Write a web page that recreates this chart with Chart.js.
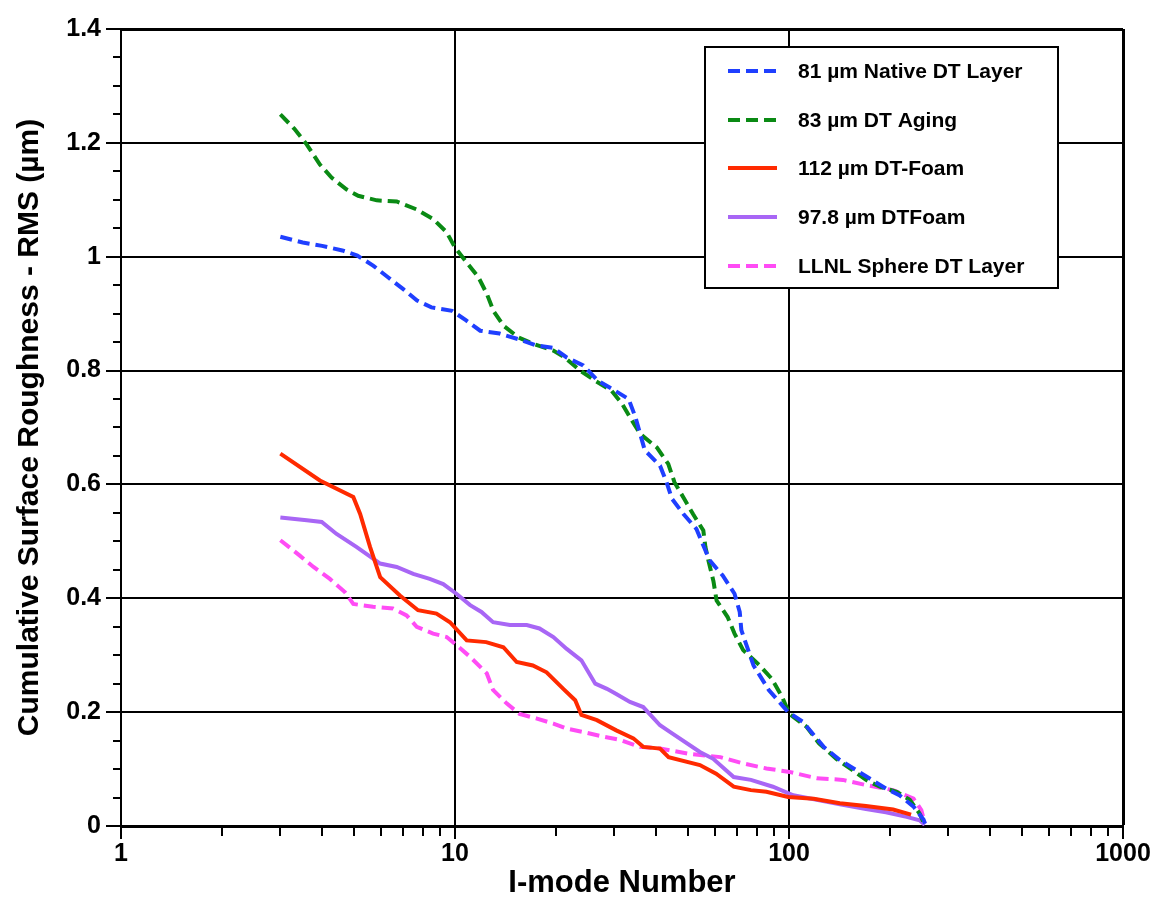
<!DOCTYPE html>
<html>
<head>
<meta charset="utf-8">
<script src="https://cdn.jsdelivr.net/npm/chart.js@4/dist/chart.umd.min.js"></script>
<style>
  html, body { margin: 0; padding: 0; background: #fff; }
  #wrap { width: 1155px; height: 902px; }
</style>
</head>
<body>
<div id="wrap"><canvas id="roughness"></canvas></div>
<script>
// l-mode number vs cumulative RMS roughness (um), one pair of arrays per sample
const nativeModes = [3, 3.5, 4.0, 4.6, 5.1, 5.7, 6.3, 7.0, 7.7, 8.5, 9.8, 10.8, 11.9, 13.6, 15.5, 17.5, 19.7, 21.6, 24.2, 26.8, 29.5, 33.1, 34.7, 37, 41.1, 43, 44.6, 48.3, 52.8, 57.8, 63.3, 68.7, 71.2, 72, 78.3, 87, 99.4, 110, 127, 142, 159, 177, 195, 214, 236, 253, 256];
const nativeRms = [1.035, 1.025, 1.019, 1.011, 1.002, 0.984, 0.964, 0.943, 0.923, 0.911, 0.905, 0.888, 0.870, 0.865, 0.855, 0.844, 0.840, 0.823, 0.809, 0.782, 0.768, 0.750, 0.718, 0.660, 0.633, 0.604, 0.575, 0.548, 0.522, 0.467, 0.440, 0.408, 0.376, 0.344, 0.282, 0.239, 0.200, 0.183, 0.139, 0.116, 0.098, 0.081, 0.066, 0.054, 0.034, 0.011, 0.002];

const agingModes = [3, 3.3, 3.6, 3.94, 4.27, 4.74, 5.13, 5.83, 6.69, 7.68, 8.61, 9.44, 10, 10.84, 11.75, 12.45, 13.03, 13.96, 15.5, 17.15, 19.7, 21.3, 23.7, 26.3, 29.4, 31.6, 33.9, 35.8, 40.2, 43.5, 45.4, 48.3, 51.6, 55.4, 56.2, 57.5, 59.4, 60.7, 65.5, 68.7, 72.9, 81.7, 88.7, 95.3, 100.3, 113, 123, 138.6, 155, 170, 187, 210, 230, 246, 255];
const agingRms = [1.25, 1.225, 1.197, 1.162, 1.139, 1.118, 1.107, 1.099, 1.097, 1.083, 1.066, 1.043, 1.016, 0.990, 0.964, 0.935, 0.905, 0.879, 0.858, 0.847, 0.835, 0.823, 0.800, 0.782, 0.765, 0.742, 0.712, 0.689, 0.665, 0.636, 0.604, 0.577, 0.548, 0.519, 0.490, 0.464, 0.430, 0.396, 0.367, 0.338, 0.309, 0.282, 0.259, 0.227, 0.197, 0.174, 0.145, 0.118, 0.098, 0.081, 0.069, 0.060, 0.046, 0.022, 0.002];

const foam112Modes = [3, 3.94, 4.96, 5.2, 5.57, 5.83, 5.97, 6.84, 7.75, 8.8, 9.66, 10.84, 12.4, 13.96, 15.3, 17.1, 18.8, 21.1, 22.9, 23.9, 26.6, 30.4, 34.2, 36.6, 41.1, 43.6, 54.1, 60.5, 68.3, 76.9, 85.6, 99.4, 118.6, 142, 170, 205, 232];
const foam112Rms = [0.654, 0.607, 0.578, 0.548, 0.490, 0.455, 0.437, 0.405, 0.379, 0.373, 0.358, 0.326, 0.323, 0.314, 0.288, 0.282, 0.270, 0.241, 0.221, 0.195, 0.186, 0.168, 0.154, 0.139, 0.136, 0.121, 0.107, 0.092, 0.069, 0.063, 0.060, 0.051, 0.048, 0.040, 0.035, 0.029, 0.020];

const foam978Modes = [3, 3.6, 3.99, 4.42, 5.08, 5.97, 6.69, 7.5, 8.4, 9.22, 10.1, 11.1, 12.0, 13.0, 14.6, 16.4, 17.9, 19.7, 21.6, 23.9, 26.3, 28.5, 30.4, 33.4, 36.6, 41.1, 44.1, 54.1, 59.3, 68.3, 76.9, 89.5, 103, 121, 142, 170, 195, 225, 246, 255];
const foam978Rms = [0.542, 0.537, 0.534, 0.513, 0.490, 0.461, 0.455, 0.443, 0.434, 0.425, 0.408, 0.388, 0.376, 0.358, 0.353, 0.353, 0.347, 0.332, 0.311, 0.291, 0.250, 0.241, 0.232, 0.218, 0.209, 0.177, 0.165, 0.130, 0.118, 0.086, 0.081, 0.069, 0.054, 0.046, 0.038, 0.030, 0.024, 0.016, 0.010, 0.002];

const llnlModes = [3, 3.43, 3.77, 4.22, 4.68, 4.96, 5.68, 6.52, 7.16, 7.68, 8.6, 9.44, 10.1, 11.1, 12.45, 13.0, 14.3, 15.6, 17.5, 19.7, 21.6, 24.2, 27.8, 31.3, 35.8, 41.1, 50, 62.3, 72.9, 85.6, 100.3, 121, 145, 170, 205, 236, 249, 255];
const llnlRms = [0.502, 0.475, 0.455, 0.434, 0.411, 0.390, 0.385, 0.382, 0.370, 0.350, 0.338, 0.332, 0.318, 0.297, 0.268, 0.239, 0.215, 0.197, 0.189, 0.180, 0.171, 0.165, 0.157, 0.151, 0.139, 0.136, 0.127, 0.121, 0.110, 0.101, 0.095, 0.084, 0.081, 0.072, 0.063, 0.048, 0.028, 0.005];

const seriesLabels = ["81 µm Native DT Layer", "83 µm DT Aging", "112 µm DT-Foam", "97.8 µm DTFoam", "LLNL Sphere DT Layer"];

const xLabelValues = [1, 10, 100, 1000];
const yMax = 1.4;

const FONT = "'Liberation Sans', Arial, Helvetica, sans-serif";

const toPoints = (xs, ys) => xs.map((x, i) => ({ x, y: ys[i] }));

function series(label, xs, ys, color, dashed) {
  return {
    label,
    data: toPoints(xs, ys),
    borderColor: color,
    backgroundColor: color,
    borderWidth: 4,
    borderDash: dashed ? [12, 6] : [],
    pointRadius: 0,
    tension: 0,
    fill: false,
  };
}

// boxed legend in the upper right of the plot
const boxLegend = {
  id: "boxLegend",
  afterDraw(chart) {
    const { ctx } = chart;
    const x0 = 705, y0 = 47, w = 353, h = 241;
    ctx.save();
    ctx.fillStyle = "#fff";
    ctx.fillRect(x0, y0, w, h);
    ctx.strokeStyle = "#000";
    ctx.lineWidth = 2;
    ctx.strokeRect(x0, y0, w, h);
    ctx.font = "bold 21px " + FONT;
    ctx.textBaseline = "middle";
    ctx.textAlign = "left";
    const rows = [71, 120, 168, 217, 266];
    chart.data.datasets.forEach((ds, i) => {
      const y = rows[i];
      ctx.strokeStyle = ds.borderColor;
      ctx.lineWidth = 4;
      ctx.setLineDash(ds.borderDash);
      ctx.beginPath();
      ctx.moveTo(728, y);
      ctx.lineTo(777, y);
      ctx.stroke();
      ctx.setLineDash([]);
      ctx.fillStyle = "#000";
      ctx.fillText(ds.label, 798, y + 1);
    });
    ctx.restore();
  },
};

// outward tick marks: long at labelled values, short for minor steps
const tickMarks = {
  id: "tickMarks",
  afterDraw(chart) {
    const { ctx } = chart;
    const xs = chart.scales.x, ys = chart.scales.y;
    const bottom = chart.chartArea.bottom, left = chart.chartArea.left;
    ctx.save();
    ctx.strokeStyle = "#000";
    ctx.lineWidth = 2;
    ctx.beginPath();
    for (let d = 1; d < 1000; d *= 10) {
      for (let k = 1; k <= 10; k++) {
        const px = Math.round(xs.getPixelForValue(d * k));
        ctx.moveTo(px, bottom);
        ctx.lineTo(px, bottom + (k === 1 || k === 10 ? 13 : 10));
      }
    }
    for (let i = 0; i <= Math.round(yMax / 0.05); i++) {
      const v = i * 0.05;
      const py = Math.round(ys.getPixelForValue(v));
      const major = i % 4 === 0;
      ctx.moveTo(left, py);
      ctx.lineTo(left - (major ? 15 : 8), py);
    }
    ctx.stroke();
    ctx.restore();
  },
};

new Chart(document.getElementById("roughness"), {
  type: "line",
  data: {
    datasets: [
      series(seriesLabels[0], nativeModes, nativeRms, "#1f3fff", true),
      series(seriesLabels[1], agingModes, agingRms, "#0a8a14", true),
      series(seriesLabels[2], foam112Modes, foam112Rms, "#ff2a00", false),
      series(seriesLabels[3], foam978Modes, foam978Rms, "#a866f5", false),
      series(seriesLabels[4], llnlModes, llnlRms, "#ff4cf5", true),
    ],
  },
  options: {
    responsive: true,
    maintainAspectRatio: false,
    animation: false,
    layout: { padding: { top: 29, right: 32, left: 0, bottom: 0 } },
    plugins: {
      legend: { display: false },
      tooltip: { enabled: false },
    },
    scales: {
      x: {
        type: "logarithmic",
        min: 1,
        max: 1000,
        afterBuildTicks: (scale) => {
          scale.ticks = xLabelValues.map((v) => ({ value: v }));
        },
        afterFit: (scale) => {
          scale.height = 76;
          scale.paddingLeft = 0;
          scale.paddingRight = 0;
        },
        ticks: {
          color: "#000",
          font: { family: FONT, size: 25, weight: "bold" },
          padding: 13,
          maxRotation: 0,
          autoSkip: false,
          callback: (v) => String(v),
        },
        grid: {
          color: "#000",
          lineWidth: (c) => (c.tick && c.tick.value === 1000 ? 3 : 2),
          drawTicks: false,
        },
        border: { display: true, color: "#000", width: 3 },
        title: {
          display: true,
          text: "I-mode Number",
          color: "#000",
          font: { family: FONT, size: 31, weight: "bold" },
          padding: { top: 0, bottom: 0 },
        },
      },
      y: {
        type: "linear",
        min: 0,
        max: yMax,
        afterFit: (scale) => {
          scale.width = 121;
          scale.paddingTop = 0;
          scale.paddingBottom = 0;
        },
        ticks: {
          stepSize: 0.2,
          color: "#000",
          font: { family: FONT, size: 25, weight: "bold" },
          padding: 20,
          callback: (v) => String(+v.toFixed(1)),
        },
        grid: {
          color: "#000",
          lineWidth: (c) => (c.tick && Math.abs(c.tick.value - yMax) < 1e-6 ? 3 : 2),
          drawTicks: false,
        },
        border: { display: true, color: "#000", width: 2 },
        title: {
          display: true,
          text: "Cumulative Surface Roughness - RMS (µm)",
          color: "#000",
          font: { family: FONT, size: 30, weight: "bold" },
          padding: { top: 12, bottom: 0 },
        },
      },
    },
  },
  plugins: [tickMarks, boxLegend],
});
</script>
</body>
</html>
